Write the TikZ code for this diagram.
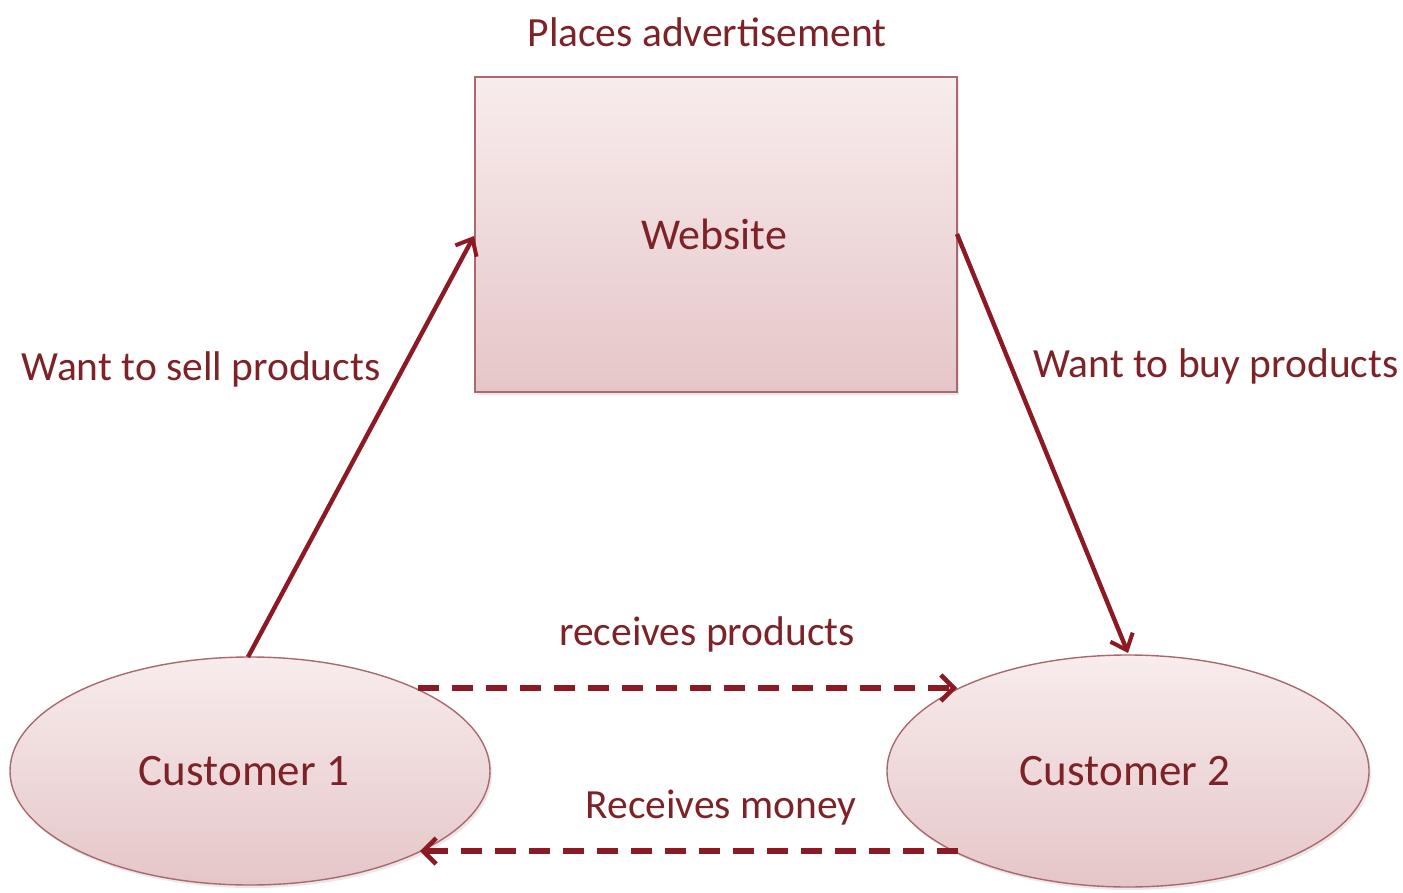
\documentclass[tikz,border=0pt]{standalone}
\usepackage{fontspec}
\setmainfont{Carlito}
\usetikzlibrary{arrows.meta,shapes.geometric,shadows}
\definecolor{txt}{RGB}{125,35,40}
\definecolor{arr}{RGB}{140,25,35}
\definecolor{bord}{RGB}{170,105,110}
\definecolor{ftop}{RGB}{248,236,236}
\definecolor{fbot}{RGB}{229,198,200}
\tikzset{
  lbl/.style={text=txt, font=\fontsize{41.5}{46}\selectfont, inner sep=0pt},
  shapebox/.style={draw=bord, line width=1.4pt, top color=ftop, bottom color=fbot,
     drop shadow={shadow xshift=2pt, shadow yshift=-3pt, opacity=0.25, fill=fbot!80!black}},
  solidarr/.style={draw=arr, line width=4.4pt, -{Straight Barb[length=14pt,width=24pt,line width=4pt]}},
  dasharr/.style={draw=arr, line width=6pt, dash pattern=on 21pt off 13pt, -{Straight Barb[length=13pt,width=26pt,line width=4.5pt]}}
}
\begin{document}
\begin{tikzpicture}[x=1pt,y=-1pt]
\useasboundingbox[fill=white] (0,0) rectangle (1403,893);
\node[shapebox, rectangle, minimum width=482pt, minimum height=315pt] (web) at (716,234.5) {};
\node[lbl, font=\fontsize{44}{50}\selectfont] (webt) at (714,234) {Website};
\node[shapebox, ellipse, minimum width=480pt, minimum height=228pt, inner sep=0pt] (c1) at (250,771) {};
\node[shapebox, ellipse, minimum width=482pt, minimum height=232pt, inner sep=0pt] (c2) at (1128,771) {};
\node[lbl, font=\fontsize{45}{50}\selectfont] (c1t) at (244,771) {Customer 1};
\node[lbl, font=\fontsize{45}{50}\selectfont] (c2t) at (1125,771) {Customer 2};
\node[lbl] (pa) at (707,32) {Places advertisement};
\node[lbl] (ws) at (201,369) {Want to sell products};
\node[lbl] (wb) at (1216,366) {Want to buy products};
\node[lbl] (rp) at (707,634) {receives products};
\node[lbl] (rm) at (721,808) {Receives money};
\coordinate (a1s) at (248,657);
\coordinate (a1e) at (474,236);
\coordinate (a2s) at (957,234);
\coordinate (a2e) at (1128,653);
\coordinate (d1s) at (418,688);
\coordinate (d1e) at (957,688);
\coordinate (d2s) at (958,851);
\coordinate (d2e) at (420,851);
\draw[solidarr] (a1s) -- (a1e);
\draw[solidarr] (a2s) -- (a2e);
\draw[dasharr] (d1s) -- (d1e);
\draw[dasharr] (d2s) -- (d2e);
\end{tikzpicture}
\end{document}
